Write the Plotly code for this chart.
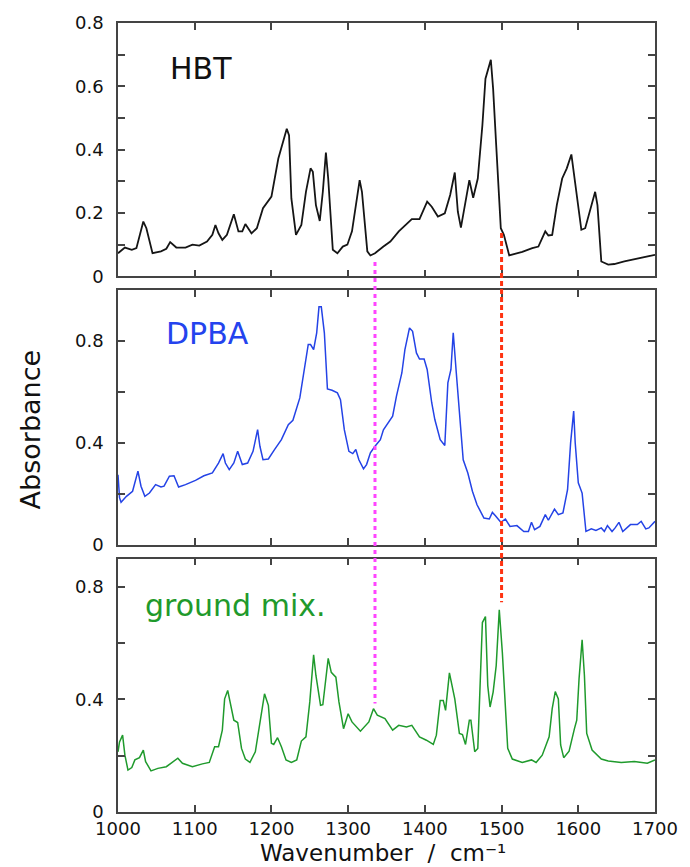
import plotly.graph_objects as go
from plotly.subplots import make_subplots

# ---------------- data ----------------
hbt_wn = [1000, 1009, 1018, 1024, 1033, 1037, 1045, 1056, 1063, 1068, 1076, 1088, 1097, 1106,
          1116, 1123, 1127, 1131, 1136, 1142, 1151, 1157, 1162, 1166, 1174, 1181, 1189, 1200,
          1209, 1220, 1223, 1226, 1232, 1239, 1245, 1251, 1254, 1258, 1263, 1267, 1271, 1274,
          1280, 1286, 1293, 1299, 1305, 1315, 1318, 1325, 1329, 1335, 1346, 1355, 1366, 1383,
          1393, 1403, 1409, 1417, 1426, 1433, 1439, 1443, 1447, 1454, 1458, 1463, 1469, 1475,
          1479, 1486, 1489, 1493, 1499, 1503, 1510, 1516, 1527, 1540, 1548, 1557, 1561, 1566,
          1572, 1579, 1585, 1591, 1596, 1604, 1609, 1615, 1622, 1625, 1630, 1639, 1647, 1660,
          1681, 1700]
hbt_abs = [0.073, 0.091, 0.084, 0.089, 0.173, 0.152, 0.073, 0.079, 0.087, 0.108, 0.091, 0.091,
           0.100, 0.097, 0.110, 0.131, 0.162, 0.136, 0.115, 0.131, 0.196, 0.142, 0.142, 0.165,
           0.136, 0.152, 0.215, 0.252, 0.372, 0.466, 0.445, 0.246, 0.131, 0.162, 0.267, 0.341,
           0.330, 0.225, 0.175, 0.267, 0.391, 0.309, 0.084, 0.073, 0.094, 0.100, 0.142, 0.304,
           0.267, 0.079, 0.066, 0.073, 0.094, 0.110, 0.142, 0.181, 0.181, 0.236, 0.220, 0.189,
           0.199, 0.257, 0.328, 0.204, 0.154, 0.246, 0.304, 0.248, 0.309, 0.477, 0.624, 0.684,
           0.592, 0.414, 0.152, 0.131, 0.066, 0.070, 0.077, 0.089, 0.094, 0.142, 0.129, 0.131,
           0.225, 0.309, 0.341, 0.385, 0.288, 0.147, 0.152, 0.204, 0.267, 0.225, 0.047, 0.037,
           0.039, 0.047, 0.058, 0.068]

dpba_wn = [1000, 1002, 1004, 1011, 1019, 1026, 1030, 1035, 1041, 1049, 1056, 1060, 1067, 1073,
           1079, 1088, 1101, 1112, 1123, 1131, 1137, 1140, 1145, 1151, 1156, 1162, 1169, 1176,
           1182, 1185, 1189, 1196, 1204, 1213, 1222, 1228, 1237, 1243, 1248, 1251, 1255, 1259,
           1262, 1265, 1269, 1273, 1279, 1286, 1290, 1295, 1301, 1306, 1310, 1314, 1320, 1324,
           1329, 1335, 1342, 1346, 1353, 1358, 1363, 1370, 1374, 1380, 1384, 1389, 1393, 1399,
           1403, 1409, 1413, 1417, 1420, 1426, 1430, 1434, 1437, 1441, 1445, 1450, 1456, 1462,
           1468, 1477, 1484, 1488, 1492, 1499, 1505, 1511, 1520, 1529, 1535, 1539, 1543, 1550,
           1557, 1561, 1569, 1574, 1580, 1586, 1590, 1594, 1596, 1600, 1605, 1610, 1617, 1623,
           1630, 1634, 1638, 1644, 1648, 1653, 1658, 1668, 1677, 1682, 1688, 1692, 1700]
dpba_abs = [0.275, 0.185, 0.167, 0.190, 0.210, 0.289, 0.230, 0.190, 0.203, 0.236, 0.227, 0.230,
            0.269, 0.271, 0.227, 0.236, 0.253, 0.271, 0.282, 0.321, 0.358, 0.321, 0.295, 0.321,
            0.367, 0.315, 0.321, 0.367, 0.452, 0.387, 0.334, 0.337, 0.374, 0.413, 0.472, 0.489,
            0.577, 0.702, 0.787, 0.787, 0.767, 0.833, 0.935, 0.935, 0.833, 0.612, 0.607, 0.597,
            0.570, 0.452, 0.367, 0.358, 0.374, 0.334, 0.298, 0.315, 0.361, 0.387, 0.413, 0.452,
            0.485, 0.505, 0.584, 0.675, 0.767, 0.852, 0.839, 0.754, 0.730, 0.730, 0.689, 0.557,
            0.492, 0.452, 0.413, 0.390, 0.636, 0.689, 0.833, 0.675, 0.505, 0.334, 0.282, 0.210,
            0.157, 0.105, 0.101, 0.127, 0.114, 0.088, 0.101, 0.072, 0.075, 0.052, 0.052, 0.088,
            0.059, 0.072, 0.118, 0.096, 0.140, 0.118, 0.125, 0.216, 0.400, 0.525, 0.400, 0.243,
            0.203, 0.052, 0.062, 0.056, 0.066, 0.052, 0.075, 0.052, 0.066, 0.088, 0.052, 0.079,
            0.079, 0.092, 0.062, 0.066, 0.092]

mix_wn = [1000, 1002, 1006, 1009, 1013, 1018, 1022, 1028, 1033, 1036, 1043, 1052, 1063, 1071,
          1078, 1084, 1097, 1110, 1119, 1126, 1131, 1136, 1139, 1143, 1147, 1151, 1156, 1161,
          1166, 1172, 1179, 1185, 1191, 1196, 1200, 1203, 1208, 1213, 1219, 1226, 1233, 1239,
          1245, 1250, 1255, 1258, 1264, 1267, 1271, 1274, 1278, 1284, 1288, 1294, 1300, 1305,
          1316, 1327, 1333, 1338, 1348, 1358, 1366, 1376, 1383, 1393, 1402, 1411, 1415, 1420,
          1424, 1427, 1432, 1439, 1445, 1449, 1453, 1458, 1460, 1465, 1469, 1475, 1479, 1482,
          1485, 1489, 1493, 1497, 1501, 1508, 1514, 1527, 1539, 1545, 1553, 1562, 1566, 1570,
          1574, 1577, 1581, 1588, 1595, 1598, 1601, 1605, 1608, 1611, 1618, 1630, 1639, 1656,
          1673, 1690, 1700]
mix_abs = [0.214, 0.249, 0.273, 0.202, 0.149, 0.158, 0.185, 0.193, 0.220, 0.179, 0.146, 0.155,
           0.161, 0.176, 0.191, 0.173, 0.161, 0.171, 0.176, 0.232, 0.232, 0.291, 0.402, 0.432,
           0.379, 0.326, 0.318, 0.226, 0.188, 0.176, 0.214, 0.326, 0.420, 0.379, 0.244, 0.240,
           0.264, 0.232, 0.185, 0.176, 0.185, 0.252, 0.267, 0.391, 0.558, 0.485, 0.379, 0.381,
           0.473, 0.546, 0.496, 0.479, 0.391, 0.296, 0.349, 0.320, 0.287, 0.320, 0.367, 0.344,
           0.332, 0.291, 0.308, 0.302, 0.308, 0.267, 0.255, 0.240, 0.273, 0.396, 0.396, 0.361,
           0.494, 0.402, 0.279, 0.275, 0.240, 0.326, 0.326, 0.214, 0.226, 0.673, 0.694, 0.449,
           0.373, 0.426, 0.520, 0.718, 0.567, 0.226, 0.188, 0.176, 0.185, 0.176, 0.202, 0.267,
           0.367, 0.428, 0.402, 0.238, 0.193, 0.216, 0.296, 0.326, 0.473, 0.612, 0.485, 0.279,
           0.220, 0.188, 0.181, 0.176, 0.179, 0.173, 0.185]

x_ticks = [1000, 1100, 1200, 1300, 1400, 1500, 1600, 1700]
x_labels = ["1000", "1100", "1200", "1300", "1400", "1500", "1600", "1700"]
top_yticks = [0, 0.2, 0.4, 0.6, 0.8]
top_ylabels = ["0", "0.2", "0.4", "0.6", "0.8"]
top_yminor = [0.1, 0.3, 0.5, 0.7]
mid_yticks = [0, 0.4, 0.8]
mid_ylabels = ["0", "0.4", "0.8"]
mid_yminor = [0.2, 0.6, 1.0]
bot_yticks = [0, 0.4, 0.8]
bot_ylabels = ["0", "0.4", "0.8"]
bot_yminor = [0.2, 0.6]

# guide lines: wavenumber, start value (HBT panel), end value (ground mix panel)
guide_wn = [1335, 1500]
guide_start = [0.045, 0.137]
guide_end = [0.385, 0.745]

# ---------------- figure ----------------
FONT = "DejaVu Sans"
AX = "#444444"
domains = {1: [0.6789, 1.0], 2: [0.3388, 0.6612], 3: [0.0, 0.3211]}
ranges = {1: [0, 0.8], 2: [0, 1.0], 3: [0, 0.9]}

fig = make_subplots(rows=3, cols=1, shared_xaxes=True)
fig.add_trace(go.Scatter(x=hbt_wn, y=hbt_abs, mode="lines",
                         line=dict(color="#151515", width=1.8)), row=1, col=1)
fig.add_trace(go.Scatter(x=dpba_wn, y=dpba_abs, mode="lines",
                         line=dict(color="#2443e6", width=1.5)), row=2, col=1)
fig.add_trace(go.Scatter(x=mix_wn, y=mix_abs, mode="lines",
                         line=dict(color="#1f9a2c", width=1.5)), row=3, col=1)

axis_common = dict(showline=True, mirror="ticks", linecolor=AX, linewidth=1.5,
                   ticks="inside", ticklen=7, tickwidth=1.5, tickcolor=AX,
                   showgrid=False, zeroline=False,
                   tickfont=dict(family=FONT, size=18, color="#111111"))

yt = {1: (top_yticks, top_ylabels, top_yminor),
      2: (mid_yticks, mid_ylabels, mid_yminor),
      3: (bot_yticks, bot_ylabels, bot_yminor)}
for r in (1, 2, 3):
    fig.update_xaxes(range=[1000, 1700], tickvals=x_ticks, ticktext=x_labels,
                     showticklabels=(r == 3), ticklabelstandoff=0, **axis_common, row=r, col=1)
    fig.update_yaxes(range=ranges[r], domain=domains[r], tickvals=yt[r][0], ticktext=yt[r][1],
                     minor=dict(tickvals=yt[r][2], ticks="inside", ticklen=7, tickwidth=1.5,
                                tickcolor=AX, showgrid=False),
                     ticklabelstandoff=9, **axis_common, row=r, col=1)


def to_paper(v, r):
    d0, d1 = domains[r]
    a0, a1 = ranges[r]
    return d0 + (v - a0) / (a1 - a0) * (d1 - d0)


guide_colors = ["#ff44ff", "#ff3311"]
guide_dash = ["4px,4px", "5px,3px"]
for wn, s, e, c, d in zip(guide_wn, guide_start, guide_end, guide_colors, guide_dash):
    fig.add_shape(type="line", xref="x3", yref="paper", x0=wn, x1=wn,
                  y0=to_paper(s, 1), y1=to_paper(e, 3),
                  line=dict(color=c, width=3, dash=d))

labels = [("HBT", 1065, 0.655, 1, "#111111"),
          ("DPBA", 1060, 0.83, 2, "#2443ee"),
          ("ground mix.", 1033, 0.735, 3, "#1f9a2c")]
for txt, xv, yv, r, col in labels:
    fig.add_annotation(text=txt, x=xv, y=yv, xref=f"x{r if r > 1 else ''}",
                       yref=f"y{r if r > 1 else ''}", xanchor="left", yanchor="middle",
                       showarrow=False, font=dict(family=FONT, size=30, color=col))

fig.add_annotation(text="Absorbance", textangle=-90, xref="paper", yref="paper",
                   x=-0.163, y=0.4855, xanchor="center", yanchor="middle", showarrow=False,
                   font=dict(family=FONT, size=27, color="#111111"))
fig.add_annotation(text="Wavenumber  /  cm\u207b\u00b9", xref="paper", yref="paper",
                   x=0.493, y=-0.0697, xanchor="center", yanchor="bottom", showarrow=False,
                   borderpad=0, font=dict(family=FONT, size=23, color="#111111"))

fig.update_layout(width=690, height=867, showlegend=False,
                  margin=dict(l=118, r=28, t=22, b=55),
                  paper_bgcolor="white", plot_bgcolor="white")

fig.write_html("out.html", config={"displayModeBar": False},
               post_script="document.body.style.margin='0px';")
